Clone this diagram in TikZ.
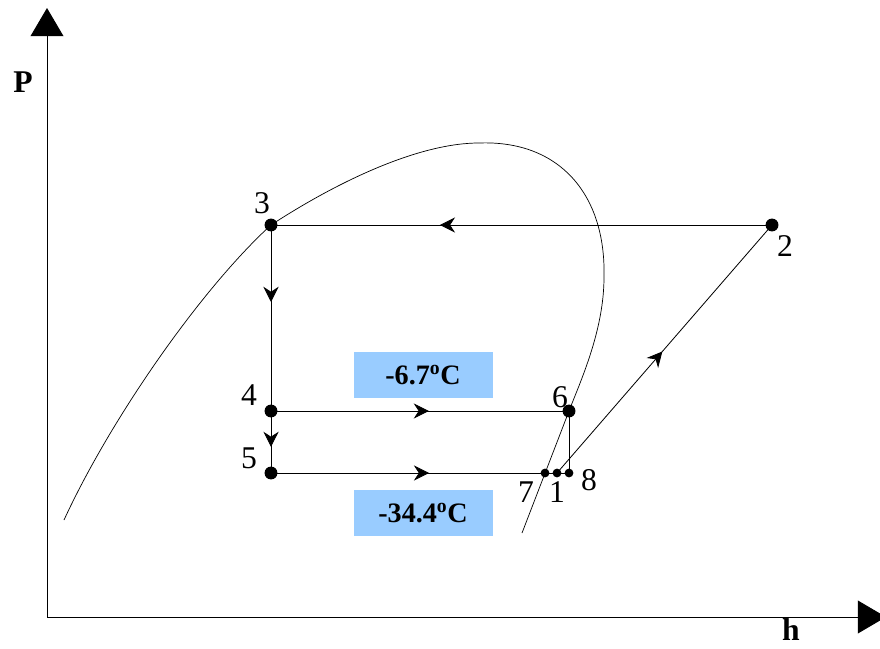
\documentclass[tikz,border=0pt]{standalone}
\usepackage{fontspec}
\setmainfont{Liberation Serif}
\usetikzlibrary{arrows.meta, decorations.markings}
\definecolor{tempblue}{HTML}{99CCFF}

\begin{document}
\begin{tikzpicture}[x=0.03cm, y=-0.03cm,
    dot/.style={circle, fill=black, inner sep=0pt, minimum size=11pt},
    smalldot/.style={circle, fill=black, inner sep=0pt, minimum size=7.5pt},
    num/.style={font=\fontsize{27}{32}\selectfont},
    axislbl/.style={font=\fontsize{27}{32}\selectfont\bfseries},
    tempbox/.style={fill=tempblue, minimum width=4.17cm, minimum height=1.38cm,
                    font=\fontsize{24}{28}\selectfont\bfseries},
    cyc/.style={line width=0.7pt},
    axis/.style={line width=0.8pt, -{Triangle[length=24pt, width=28pt]}},
    midarrow/.style={postaction={decorate}, decoration={markings,
                     mark=at position #1 with {\arrow{Stealth[length=13pt, width=13pt]}}}}]
    \useasboundingbox (0,0) rectangle (880,648);
    % axes
    \coordinate (origin) at (47,617);
    \coordinate (ptop) at (47,8);
    \coordinate (hend) at (886,617);
    \draw[axis] (origin) -- (ptop);
    \draw[axis] (origin) -- (hend);
    \node[axislbl] (plbl) at (23,82) {P};
    \node[axislbl] (hlbl) at (791,630) {h};
    % saturation dome
    \draw[line width=0.6pt] (64,520) .. controls (110,420) and (200,290) .. (271,225)
        .. controls (340,180) and (420,143) .. (479,143)
        .. controls (560,140) and (606,195) .. (604,277)
        .. controls (604,330) and (581,380) .. (569,411)
        -- (522,533);
    % state points
    \node[dot] (p2) at (772,225) {};
    \node[dot] (p3) at (271,225) {};
    \node[dot] (p4) at (271,411) {};
    \node[dot] (p5) at (271,473) {};
    \node[dot] (p6) at (569,411) {};
    \node[smalldot] (p7) at (545,473) {};
    \node[smalldot] (p1) at (557,473) {};
    \node[smalldot] (p8) at (569,473) {};
    % cycle
    \draw[cyc, midarrow=0.663] (p2.center) -- (p3.center);
    \draw[cyc, midarrow=0.414] (p3.center) -- (p4.center);
    \draw[cyc, midarrow=0.58] (p4.center) -- (p5.center);
    \draw[cyc, midarrow=0.53] (p4.center) -- (p6.center);
    \draw[cyc, midarrow=0.577] (p5.center) -- (p7.center);
    \draw[cyc] (p7.center) -- (p8.center);
    \draw[cyc] (p6.center) -- (p8.center);
    \draw[cyc, midarrow=0.49] (p1.center) -- (p2.center);
    % labels
    \node[num] (l1) at (557,492) {1};
    \node[num] (l2) at (785,246) {2};
    \node[num] (l3) at (262,203) {3};
    \node[num] (l4) at (249,395) {4};
    \node[num] (l5) at (249,458) {5};
    \node[num] (l6) at (560,397) {6};
    \node[num] (l7) at (526,492) {7};
    \node[num] (l8) at (589,480) {8};
    \node[tempbox] (evaphigh) at (423,375) {-6.7\textsuperscript{o}C};
    \node[tempbox] (evaplow) at (423,513) {-34.4\textsuperscript{o}C};
\end{tikzpicture}
\end{document}
